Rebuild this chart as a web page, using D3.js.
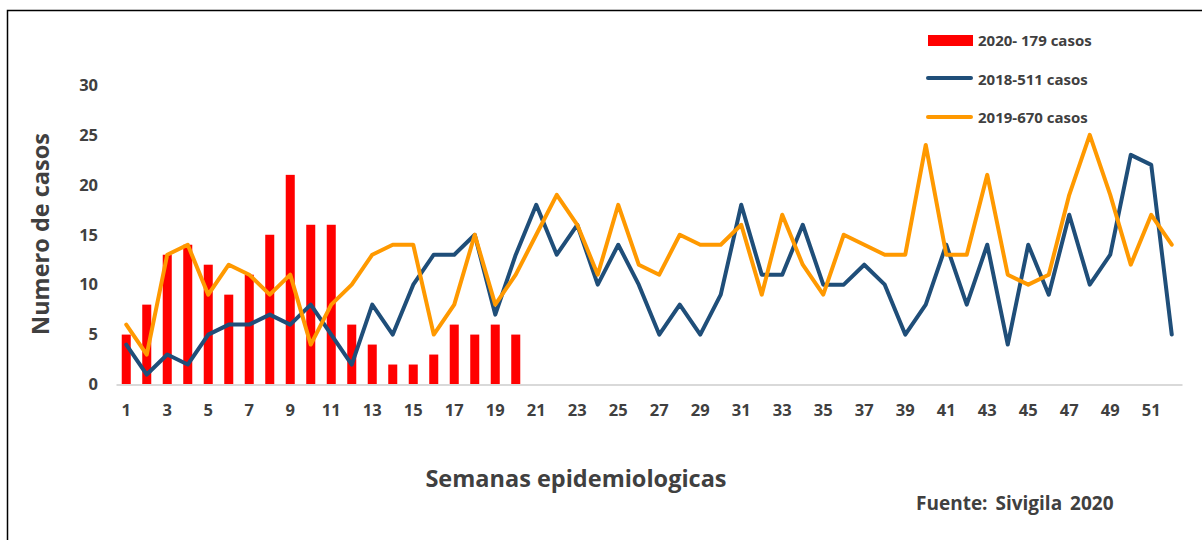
<!DOCTYPE html>
<html>
<head>
<meta charset="utf-8">
<script src="https://cdn.jsdelivr.net/npm/d3@7"></script>
<style>
  body { margin: 0; background: #fff; }
  text { font-family: "Open Sans", Lato, sans-serif; font-weight: bold; fill: #404040; }
</style>
</head>
<body>
<div id="chart"></div>
<script>
// semanas epidemiologicas 1..52
const weeks = d3.range(1, 53)
const weekTicks = weeks.filter(w => w % 2 === 1)
const yTicks = [0, 5, 10, 15, 20, 25, 30]

// 2020 (barras, semanas 1-20)
const cases2020 = [5, 8, 13, 14, 12, 9, 11, 15, 21, 16, 16, 6, 4, 2, 2, 3, 6, 5, 6, 5]
// 2018
const cases2018 = [4, 1, 3, 2, 5, 6, 6, 7, 6, 8, 5, 2, 8, 5, 10, 13, 13, 15, 7, 13,
    18, 13, 16, 10, 14, 10, 5, 8, 5, 9, 18, 11, 11, 16, 10, 10, 12, 10, 5, 8,
    14, 8, 14, 4, 14, 9, 17, 10, 13, 23, 22, 5]
// 2019
const cases2019 = [6, 3, 13, 14, 9, 12, 11, 9, 11, 4, 8, 10, 13, 14, 14, 5, 8, 15, 8, 11,
    15, 19, 16, 11, 18, 12, 11, 15, 14, 14, 16, 9, 17, 12, 9, 15, 14, 13, 13, 24,
    13, 13, 21, 11, 10, 11, 19, 25, 19, 12, 17, 14]

const legendLabels = ["2020- 179 casos", "2018-511 casos", "2019-670 casos"]

const width = 1202
const height = 540

let svg = d3.select("#chart")
    .append("svg")
    .attr("width", width)
    .attr("height", height)

// marco
svg.append("path")
    .attr("d", "M7.5,540 V10.5 H1202")
    .attr("fill", "none")
    .attr("stroke", "#000")
    .attr("stroke-width", 1.5)

// escalas
let x = d3.scaleBand()
    .domain(weeks)
    .range([116, 1182])
    .paddingInner(0.56)
    .paddingOuter(0.28)

let xc = w => x(w) + x.bandwidth() / 2

let y = d3.scaleLinear()
    .domain([0, 30])
    .range([384.5, 85])

// eje Y (solo etiquetas)
let yAxis = svg.append("g")
    .attr("transform", "translate(98,0)")
    .call(d3.axisLeft(y).tickValues(yTicks).tickSize(0).tickPadding(0))
yAxis.select(".domain").remove()
yAxis.selectAll("text")
    .style("font-size", "16.5px")
    .style("font-family", "'Open Sans', Lato, sans-serif")
    .attr("fill", "#404040")

// barras 2020
svg.selectAll(".bar")
    .data(cases2020)
    .enter()
    .append("rect")
    .attr("class", "bar")
    .attr("x", (d, i) => x(weeks[i]))
    .attr("width", x.bandwidth())
    .attr("y", d => y(d))
    .attr("height", d => y(0) - y(d))
    .attr("fill", "#FF0000")

// eje X
let xAxis = svg.append("g")
    .attr("transform", "translate(0," + y(0) + ")")
    .call(d3.axisBottom(x).tickValues(weekTicks).tickSize(0).tickPadding(20))
xAxis.select(".domain")
    .attr("stroke", "#D9D9D9")
    .attr("stroke-width", 2)
xAxis.selectAll("text")
    .style("font-size", "16.5px")
    .style("font-family", "'Open Sans', Lato, sans-serif")
    .attr("fill", "#404040")

// lineas
const line = d3.line()
    .x((d, i) => xc(weeks[i]))
    .y(d => y(d))

svg.append("path")
    .datum(cases2018)
    .attr("fill", "none")
    .attr("stroke", "#1F4E79")
    .attr("stroke-width", 4)
    .attr("stroke-linejoin", "round")
    .attr("stroke-linecap", "round")
    .attr("d", line)

svg.append("path")
    .datum(cases2019)
    .attr("fill", "none")
    .attr("stroke", "#FF9900")
    .attr("stroke-width", 4)
    .attr("stroke-linejoin", "round")
    .attr("stroke-linecap", "round")
    .attr("d", line)

// titulos
svg.append("text")
    .attr("transform", "translate(49,234) rotate(-90)")
    .attr("text-anchor", "middle")
    .style("font-size", "23.5px")
    .text("Numero de casos")

svg.append("text")
    .attr("x", 576)
    .attr("y", 487)
    .attr("text-anchor", "middle")
    .style("font-size", "23.5px")
    .text("Semanas epidemiologicas")

svg.append("text")
    .attr("x", 916)
    .attr("y", 510)
    .style("font-size", "19px")
    .style("word-spacing", "3px")
    .text("Fuente: Sivigila 2020")

// leyenda
let legend = svg.append("g")
legend.append("rect")
    .attr("x", 928).attr("y", 35)
    .attr("width", 45).attr("height", 11)
    .attr("fill", "#FF0000")
legend.append("line")
    .attr("x1", 928).attr("x2", 971)
    .attr("y1", 78).attr("y2", 78)
    .attr("stroke", "#1F4E79").attr("stroke-width", 4).attr("stroke-linecap", "round")
legend.append("line")
    .attr("x1", 928).attr("x2", 971)
    .attr("y1", 117).attr("y2", 117)
    .attr("stroke", "#FF9900").attr("stroke-width", 4).attr("stroke-linecap", "round")

legend.selectAll(".leg-text")
    .data(legendLabels)
    .enter()
    .append("text")
    .attr("class", "leg-text")
    .attr("x", 978)
    .attr("y", (d, i) => 41 + i * 38.5)
    .attr("dy", "0.35em")
    .style("font-size", "15px")
    .text(d => d)
</script>
</body>
</html>
